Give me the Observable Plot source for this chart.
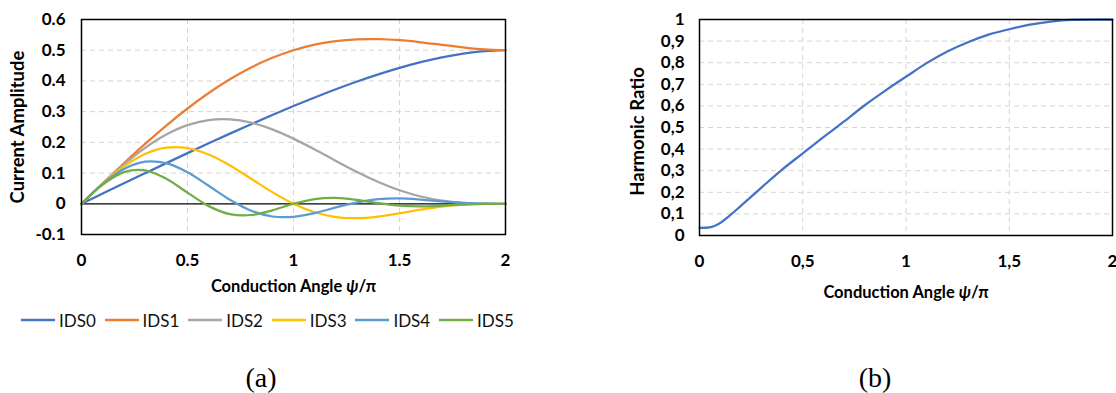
<!DOCTYPE html>
<html><head><meta charset="utf-8">
<script src="https://cdn.jsdelivr.net/npm/d3@7"></script>
<script src="https://cdn.jsdelivr.net/npm/@observablehq/plot@0.6"></script>
<style>
html,body{margin:0;padding:0;background:#fff;}
body{width:1116px;height:393px;position:relative;overflow:hidden;font-family:Lato,"Open Sans",sans-serif;}
#a{position:absolute;left:0;top:0;}
#b{position:absolute;left:560px;top:0;}
#legend{position:absolute;left:21px;top:309px;height:22px;display:flex;}
.item{width:83.6px;display:flex;align-items:center;font-size:17px;color:#111;}
.item svg{margin-right:4px;}
.cap{position:absolute;top:362px;font-family:"Liberation Serif","Times New Roman",serif;font-size:28px;color:#000;transform:translateX(-50%);line-height:32px;}
</style></head><body>
<div id="a"></div><div id="b"></div>
<div id="legend"></div>
<div class="cap" style="left:261px">(a)</div>
<div class="cap" style="left:875px">(b)</div>
<script>
// ---- data: panel (a) ----
const angle = [0,0.1,0.2,0.3,0.4,0.5,0.6,0.7,0.8,0.9,1.0,1.1,1.2,1.3,1.4,1.5,1.6,1.7,1.8,1.9,2.0];
const IDS0 = [0,0.0333,0.0666,0.0996,0.1324,0.1649,0.1969,0.2284,0.2592,0.2893,0.3183,0.3463,0.3729,0.3980,0.4213,0.4425,0.4612,0.4769,0.4891,0.4971,0.5];
const IDS1 = [0,0.0665,0.1318,0.1949,0.2547,0.3102,0.3606,0.4052,0.4435,0.4752,0.5,0.5181,0.5298,0.5356,0.5362,0.5326,0.5259,0.5176,0.5093,0.5027,0.5];
const IDS2 = [0,0.0660,0.1279,0.1822,0.2256,0.2562,0.2726,0.2749,0.2642,0.2424,0.2122,0.1768,0.1395,0.1032,0.0708,0.0440,0.0238,0.0105,0.0032,0.0004,0];
const IDS3 = [0,0.0652,0.1217,0.1623,0.1826,0.1811,0.1602,0.1248,0.0816,0.0379,0,-0.0277,-0.0431,-0.0469,-0.0416,-0.0311,-0.0193,-0.0094,-0.0031,-0.0004,0];
const IDS4 = [0,0.0640,0.1133,0.1371,0.1321,0.1025,0.0585,0.0130,-0.0226,-0.0414,-0.0424,-0.0302,-0.0119,0.0049,0.0152,0.0176,0.0139,0.0079,0.0028,0.0004,0];
const IDS5 = [0,0.0625,0.1031,0.1088,0.0816,0.0362,-0.0076,-0.0337,-0.0365,-0.0213,0,0.0155,0.0193,0.0127,0.0020,-0.0062,-0.0086,-0.0063,-0.0026,-0.0004,0];
const seriesNames = ["IDS0","IDS1","IDS2","IDS3","IDS4","IDS5"];
const seriesColors = ["#4472C4","#ED7D31","#A5A5A5","#FFC000","#5B9BD5","#70AD47"];
const xTicks = [0,0.5,1,1.5,2];
const yTicksA = [-0.1,0,0.1,0.2,0.3,0.4,0.5,0.6];
// ---- data: panel (b) ----
const ratioX = [0,0.05,0.1,0.15,0.2,0.3,0.4,0.5,0.6,0.7,0.8,0.9,1.0,1.1,1.2,1.3,1.4,1.5,1.6,1.7,1.8,1.9,2.0];
const ratio = [0.035,0.038,0.058,0.095,0.137,0.222,0.305,0.38,0.455,0.528,0.603,0.671,0.735,0.798,0.852,0.895,0.93,0.955,0.976,0.99,0.998,1.0,1.0];
const yTicksB = [0,0.1,0.2,0.3,0.4,0.5,0.6,0.7,0.8,0.9,1];

const seriesVals = [IDS0,IDS1,IDS2,IDS3,IDS4,IDS5];
const rows = [];
seriesNames.forEach((s,i)=>angle.forEach((x,j)=>rows.push({x, v: seriesVals[i][j], s})));
const rowsB = ratioX.map((x,i)=>({x, v: ratio[i]}));

const style = {fontFamily:"Lato, 'Open Sans', sans-serif", fontSize:"17px", fontWeight:"bold", color:"#000", background:"transparent", overflow:"visible"};
const grid = {stroke:"#d4d4d4", strokeOpacity:1, strokeDasharray:"5,4", strokeWidth:1};

const fmtA = d => d === 0 ? "0" : (d<0?"-":"") + Math.abs(d).toFixed(1);
const fmtX = d => String(d);
const fmtB = d => String(+d.toFixed(1)).replace(".", ",");

const plotA = Plot.plot({
  width: 540, height: 300,
  marginLeft: 81, marginRight: 35, marginTop: 19, marginBottom: 66,
  style,
  x: {domain:[0,2]},
  y: {domain:[-0.1,0.6]},
  color: {domain: seriesNames, range: seriesColors},
  marks: [
    Plot.gridY([0.1,0.2,0.3,0.4,0.5], grid),
    Plot.gridX([0.5,1,1.5], grid),
    Plot.ruleY([0], {stroke:"#000", strokeWidth:1.3}),
    Plot.line(rows, {x:"x", y:"v", z:"s", stroke:"s", curve:"catmull-rom", strokeWidth:2.25}),
    Plot.frame({stroke:"#000", strokeWidth:1.5}),
    Plot.axisX(xTicks, {tickSize:0, tickPadding:19, tickFormat:fmtX, label:null}),
    Plot.axisY(yTicksA, {tickSize:0, tickPadding:16, tickFormat:fmtA, label:null}),
    Plot.text(["Conduction Angle ψ/π"], {frameAnchor:"bottom", dy:52, fontSize:16.5, fontWeight:"bold", textAnchor:"middle", lineAnchor:"middle", className:"xt"}),
    Plot.text(["Current Amplitude"], {frameAnchor:"left", dx:-63, rotate:-90, fontSize:18.5, fontWeight:"bold", textAnchor:"middle", lineAnchor:"middle"})
  ]
});
document.getElementById("a").appendChild(plotA);

const plotB = Plot.plot({
  width: 556, height: 300,
  marginLeft: 139, marginRight: 4, marginTop: 19, marginBottom: 65,
  style,
  x: {domain:[0,2]},
  y: {domain:[0,1]},
  marks: [
    Plot.gridY([0.1,0.2,0.3,0.4,0.5,0.6,0.7,0.8,0.9], grid),
    Plot.gridX([0.5,1,1.5], grid),
    Plot.line(rowsB, {x:"x", y:"v", stroke:"#4472C4", curve:"monotone-x", strokeWidth:2.25}),
    Plot.frame({stroke:"#000", strokeWidth:1.5}),
    Plot.axisX(xTicks, {tickSize:0, tickPadding:19, tickFormat:fmtB, label:null}),
    Plot.axisY(yTicksB, {tickSize:0, tickPadding:15, tickFormat:fmtB, label:null}),
    Plot.text(["Conduction Angle ψ/π"], {frameAnchor:"bottom", dy:57, fontSize:16.5, fontWeight:"bold", textAnchor:"middle", lineAnchor:"middle", className:"xt"}),
    Plot.text(["Harmonic Ratio"], {frameAnchor:"left", dx:-61, dy:4, rotate:-90, fontSize:18.5, fontWeight:"bold", textAnchor:"middle", lineAnchor:"middle"})
  ]
});
document.getElementById("b").appendChild(plotB);

// italic psi in axis titles
document.querySelectorAll(".xt text").forEach(t => {
  t.innerHTML = 'Conduction Angle <tspan font-style="italic">ψ</tspan>/π';
});

// legend
const lg = document.getElementById("legend");
seriesNames.forEach((s,i)=>{
  const it = document.createElement("div");
  it.className = "item";
  it.innerHTML = `<svg width="34" height="4"><line x1="0" x2="34" y1="2" y2="2" stroke="${seriesColors[i]}" stroke-width="2.5"/></svg><span>${s}</span>`;
  lg.appendChild(it);
});
</script>
</body></html>
